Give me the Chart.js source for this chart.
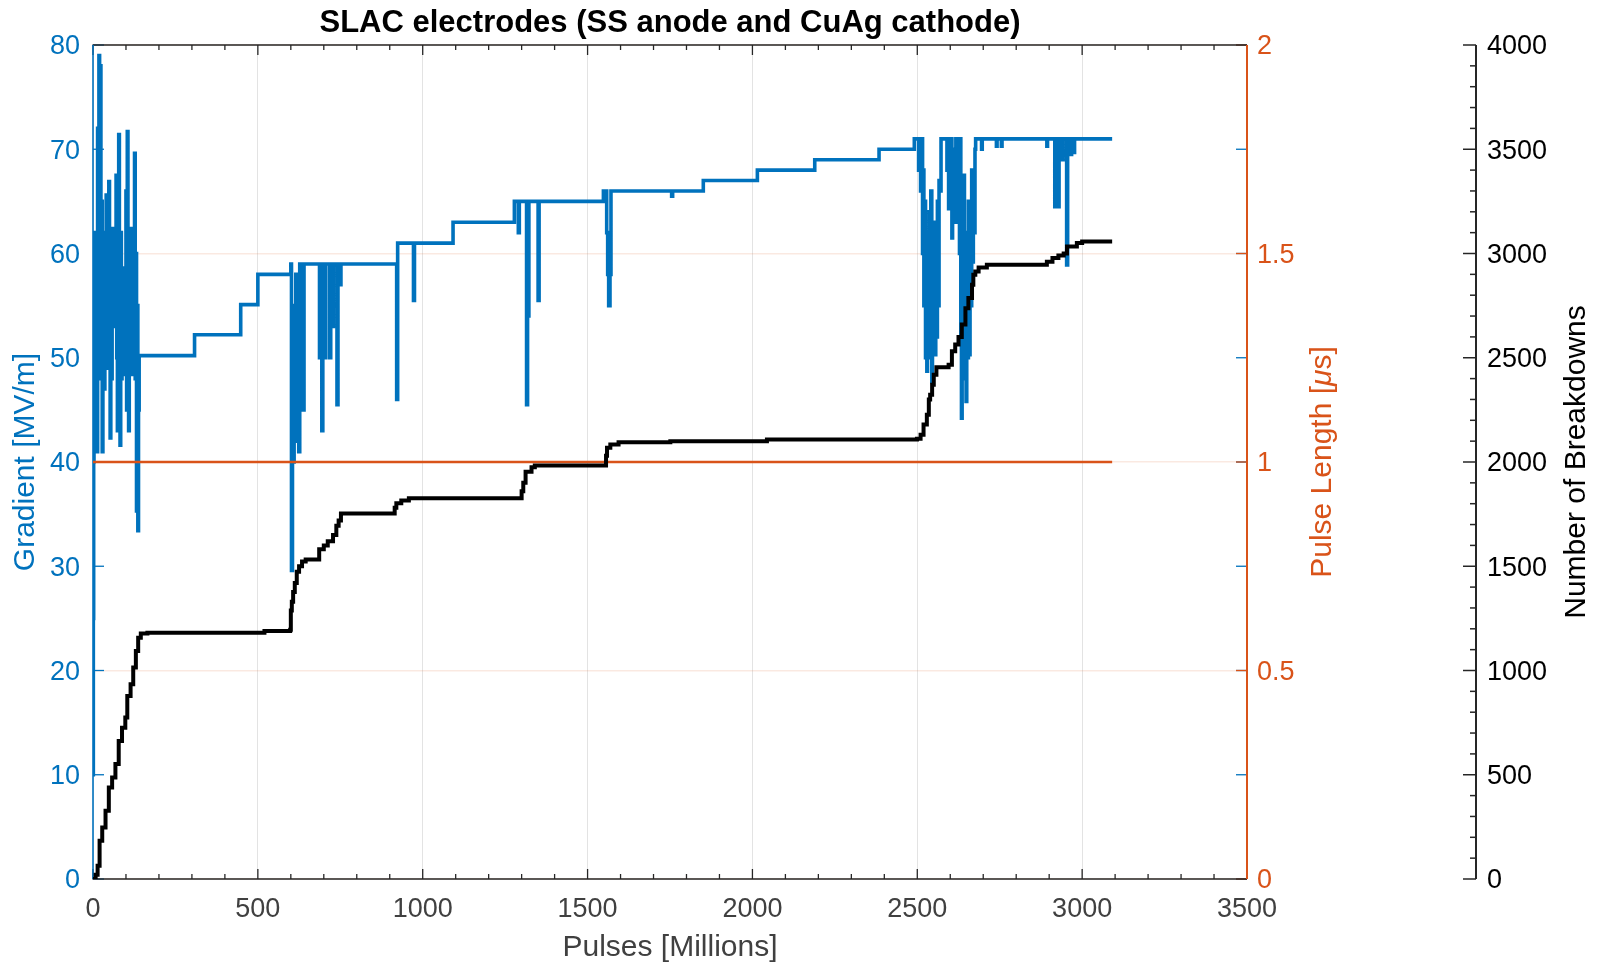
<!DOCTYPE html>
<html>
<head>
<meta charset="utf-8">
<script src="https://cdn.jsdelivr.net/npm/chart.js@4.4.1/dist/chart.umd.min.js"></script>
<style>
  html, body { margin: 0; padding: 0; background: #ffffff; }
  #c { display: block; }
</style>
</head>
<body>
<canvas id="c" width="1602" height="963" style="width:1602px;height:963px"></canvas>
<script>
// ---------------- DATA ----------------
const chartTitle = "SLAC electrodes (SS anode and CuAg cathode)";
const xTitle = "Pulses [Millions]";
const yGradTitle = "Gradient [MV/m]";
const yPulseTitle = ["Pulse Length [", "\u03bc", "s]"];
const yBdTitle = "Number of Breakdowns";

// Gradient [MV/m] vs pulses [millions] (value holds until next point)
const gradPulses = [
  0, 1, 2, 3, 4, 6, 8, 10, 12, 14, 16, 18, 20, 22, 24, 26, 28, 30, 32, 34, 36, 38, 40, 42, 44, 46, 48, 50,
  52, 54, 56, 58, 60, 62, 64, 66, 68, 70, 72, 74, 76, 78, 80, 82, 84, 86, 88, 90, 92, 94, 96, 98, 100,
  102, 104, 106, 108, 110, 112, 114, 116, 118, 120, 122, 124, 126, 128, 130, 132, 134, 136, 138, 140,
  308, 448, 500, 600, 602, 605, 607, 610, 612, 615, 618, 621, 624, 627, 630, 633, 636, 640,
  687, 689, 694, 697, 703, 706, 718, 721, 727, 729, 740, 743, 750, 752,
  921, 924, 972, 975, 1092, 1278, 1290, 1293, 1315, 1318, 1322, 1350, 1353,
  1548, 1558, 1561, 1564, 1568, 1571, 1755, 1758, 1851, 2015, 2189, 2384, 2491,
  2504, 2507, 2510, 2513, 2516, 2518, 2520, 2522, 2525, 2527, 2529, 2531, 2534, 2536, 2539, 2541,
  2544, 2546, 2549, 2551, 2554, 2556, 2559, 2561, 2564, 2566, 2569, 2572, 2590, 2592, 2595, 2597,
  2600, 2602, 2605, 2607, 2610, 2612, 2615, 2617, 2620, 2622, 2625, 2628, 2630, 2632, 2634, 2636,
  2638, 2640, 2643, 2645, 2648, 2650, 2652, 2655, 2658, 2660, 2662, 2665, 2668, 2670, 2673, 2675, 2677,
  2695, 2697, 2740, 2742, 2755, 2757, 2893, 2895, 2917, 2919, 2921, 2924, 2928, 2930, 2940, 2942,
  2953, 2956, 2966, 2968, 2975, 2977, 3091
];
const gradValues = [
  10, 25, 40, 62, 48, 60, 45, 58, 41, 72, 55, 79, 60, 78, 48, 65, 41, 56, 62, 47, 58, 52, 65.6, 49, 60, 52, 66.9, 50,
  42.3, 60, 48, 62.4, 53, 58, 55, 60, 53, 67.5, 50, 43, 58, 71.4, 55, 41.6, 62, 48, 56, 50, 58.6, 48.4, 55, 52, 66,
  45, 71.7, 50, 43, 62, 52, 62.4, 48.4, 58, 50, 60, 55, 69.6, 48, 60, 35.3, 55, 33.4, 45, 50.2,
  52.2, 55.1, 58, 59, 29.6, 50, 40, 55, 42, 58, 45, 57, 41, 59, 48, 56, 45, 59,
  50, 59, 43, 59, 50, 59, 50, 59, 53, 59, 45.5, 59, 57, 59,
  46, 61, 55.5, 61, 63, 65, 62, 65, 45.5, 54, 65, 55.5, 65,
  66, 62, 58, 55, 58, 66, 65.5, 66, 67, 68, 69, 70, 71,
  68, 71, 66, 71, 60, 68, 55, 65, 50, 62, 48.7, 58, 52, 64, 50, 66,
  47.7, 60, 52, 63, 50.3, 60, 52, 65, 55, 67, 66, 71, 68, 71, 64.3, 69,
  66, 71, 61.5, 68, 63, 70, 65, 71, 63, 69, 66, 60, 71, 52, 44.2, 58,
  48, 67.5, 52, 60, 45.8, 62, 50, 65, 50.3, 62, 55, 68, 59.2, 66, 62, 70, 71,
  70, 71, 70.3, 71, 70.3, 71, 70.3, 71, 64.5, 68, 66, 71, 64.5, 71, 69, 71,
  58.9, 71, 69.5, 71, 69.7, 71, 71
];

// Cumulative number of breakdowns vs pulses [millions]
const bdPulses = [
  0, 8, 14, 20, 28, 38, 48, 58, 68, 78, 88, 98, 104, 114, 122, 130, 137, 145, 165, 520, 598,
  600, 603, 607, 612, 618, 625, 634, 645, 686, 700, 712, 728, 738, 745, 752,
  915, 920, 935, 958, 1300, 1305, 1312, 1330, 1340, 1556, 1559, 1569, 1594, 1751, 2044,
  2499, 2510, 2519, 2529, 2535, 2539, 2545, 2550, 2558, 2595, 2605, 2615, 2625, 2635, 2646,
  2655, 2666, 2670, 2676, 2686, 2711, 2893, 2910, 2928, 2944, 2954, 2984, 3000, 3091
];
const bdCounts = [
  0, 20, 64, 183, 247, 327, 439, 487, 552, 662, 726, 774, 878, 934, 1014, 1094, 1157, 1177, 1181, 1189, 1195,
  1288, 1330, 1376, 1420, 1474, 1500, 1523, 1532, 1581, 1600, 1620, 1650, 1694, 1720, 1753,
  1780, 1802, 1815, 1826, 1860, 1900, 1953, 1975, 1983, 2030, 2068, 2084, 2095, 2100, 2108,
  2112, 2131, 2180, 2227, 2300, 2323, 2371, 2419, 2455, 2467, 2531, 2563, 2600, 2659, 2738,
  2786, 2850, 2898, 2914, 2933, 2946, 2960, 2978, 2991, 3000, 3034, 3050, 3058, 3058
];

// Pulse length [us]
const plPulses = [0, 3091];
const plValues = [1, 1];

// Axis ranges / tick steps
const xRange = [0, 3500], xStep = 500, xMinor = 100;
const gradRange = [0, 80], gradStep = 10;
const plRange = [0, 2], plStep = 0.5;
const bdRange = [0, 4000], bdStep = 500, bdMinor = 100;

// ---------------- STYLE ----------------
const BLUE = '#0072BD', ORANGE = '#D95319', DARK = '#262626';
const FONT = "'Liberation Sans', Arial, Helvetica, sans-serif";
Chart.defaults.font.family = FONT;

const toXY = (xs, ys) => xs.map((v, i) => ({ x: v, y: ys[i] }));
const plain = v => String(v);

const matlabAxes = {
  id: 'matlabAxes',
  beforeDatasetsDraw(chart) {
    const { ctx, chartArea: ca, scales } = chart;
    const { x, y, y1, y2 } = scales;
    ctx.save();
    const seg = (a, b, c, d, col, w) => {
      ctx.strokeStyle = col; ctx.lineWidth = w;
      ctx.beginPath(); ctx.moveTo(a, b); ctx.lineTo(c, d); ctx.stroke();
    };
    for (let v = xRange[0]; v <= xRange[1]; v += xMinor) {
      const px = x.getPixelForValue(v);
      const len = (v % xStep === 0) ? 10 : 5;
      seg(px, ca.bottom, px, ca.bottom - len, DARK, 1.3);
      seg(px, ca.top, px, ca.top + len, DARK, 1.3);
    }
    for (let v = gradRange[0]; v <= gradRange[1]; v += gradStep) {
      const py = y.getPixelForValue(v);
      seg(ca.left, py, ca.left + 11, py, BLUE, 1.3);
      seg(ca.right - 11, py, ca.right, py, BLUE, 1.3);
    }
    for (let v = plRange[0]; v <= plRange[1] + 1e-9; v += plStep) {
      const py = y1.getPixelForValue(v);
      seg(ca.right - 11, py, ca.right, py, ORANGE, 1.3);
    }
    seg(ca.left - 0.5, ca.top, ca.right, ca.top, DARK, 1.5);
    seg(ca.left - 0.5, ca.bottom, ca.right, ca.bottom, DARK, 1.5);
    seg(ca.left, ca.top, ca.left, ca.bottom, BLUE, 1.6);
    seg(ca.right, ca.top, ca.right, ca.bottom, ORANGE, 2);
    const ax = y2.left;
    seg(ax, y2.getPixelForValue(bdRange[0]), ax, y2.getPixelForValue(bdRange[1]), DARK, 2);
    for (let v = bdRange[0]; v <= bdRange[1]; v += bdMinor) {
      const py = y2.getPixelForValue(v);
      const len = (v % bdStep === 0) ? 13 : 6;
      seg(ax - len, py, ax, py, DARK, 1.5);
    }
    ctx.restore();
  },
  afterDraw(chart) {
    const { ctx, chartArea: ca } = chart;
    const cy = (ca.top + ca.bottom) / 2;
    ctx.save();
    ctx.fillStyle = '#000000';
    ctx.font = `bold 31px ${FONT}`;
    ctx.textAlign = 'center';
    ctx.textBaseline = 'alphabetic';
    ctx.fillText(chartTitle, (ca.left + ca.right) / 2, 32);
    ctx.font = `30px ${FONT}`;
    ctx.fillStyle = '#404040';
    ctx.textBaseline = 'middle';
    ctx.fillText(xTitle, (ca.left + ca.right) / 2, 948);
    const vtext = (parts, cx, col) => {
      ctx.save();
      ctx.translate(cx, cy);
      ctx.rotate(-Math.PI / 2);
      ctx.fillStyle = col;
      ctx.textBaseline = 'middle';
      ctx.textAlign = 'left';
      let total = 0;
      const widths = parts.map(p => { ctx.font = (p.italic ? 'italic ' : '') + `30px ${FONT}`; const w = ctx.measureText(p.t).width; total += w; return w; });
      let xx = -total / 2;
      parts.forEach((p, i) => { ctx.font = (p.italic ? 'italic ' : '') + `30px ${FONT}`; ctx.fillText(p.t, xx, 0); xx += widths[i]; });
      ctx.restore();
    };
    vtext([{ t: yGradTitle }], 26, BLUE);
    vtext([{ t: yPulseTitle[0] }, { t: yPulseTitle[1], italic: true }, { t: yPulseTitle[2] }], 1323, ORANGE);
    vtext([{ t: yBdTitle }], 1577, '#000000');
    ctx.restore();
  }
};

new Chart(document.getElementById('c'), {
  type: 'line',
  data: {
    datasets: [
      {
        label: 'Breakdowns', data: toXY(bdPulses, bdCounts), yAxisID: 'y2',
        borderColor: '#000000', borderWidth: 4, pointRadius: 0, stepped: true, order: 1,
        borderJoinStyle: 'miter', fill: false
      },
      {
        label: 'Pulse length', data: toXY(plPulses, plValues), yAxisID: 'y1',
        borderColor: ORANGE, borderWidth: 2.5, pointRadius: 0, order: 2, fill: false
      },
      {
        label: 'Gradient', data: toXY(gradPulses, gradValues), yAxisID: 'y',
        borderColor: BLUE, borderWidth: 3.6, pointRadius: 0, stepped: true, order: 3,
        borderJoinStyle: 'miter', fill: false
      }
    ]
  },
  options: {
    responsive: false,
    animation: false,
    devicePixelRatio: 1,
    layout: { padding: { top: 45, left: 0, right: 0, bottom: 0 } },
    plugins: { legend: { display: false }, tooltip: { enabled: false }, title: { display: false } },
    scales: {
      x: {
        type: 'linear', position: 'bottom', min: xRange[0], max: xRange[1],
        ticks: { stepSize: xStep, color: '#404040', font: { size: 27 }, padding: 14, maxRotation: 0, callback: plain },
        grid: { display: true, drawTicks: false, color: 'rgba(38,38,38,0.13)', lineWidth: 1 },
        border: { display: false },
        afterFit: s => { s.height = 84; }
      },
      y: {
        type: 'linear', position: 'left', min: gradRange[0], max: gradRange[1],
        ticks: { stepSize: gradStep, color: BLUE, font: { size: 27 }, padding: 13, labelOffset: 2, callback: plain },
        grid: { display: false, drawTicks: false },
        border: { display: false },
        afterFit: s => { s.width = 93; }
      },
      y1: {
        type: 'linear', position: 'right', min: plRange[0], max: plRange[1],
        ticks: { stepSize: plStep, color: ORANGE, font: { size: 27 }, padding: 10, labelOffset: 2, callback: plain },
        grid: { display: true, drawTicks: false, color: 'rgba(217,83,25,0.13)', lineWidth: 1.5 },
        border: { display: false },
        afterFit: s => { s.width = 229; }
      },
      y2: {
        type: 'linear', position: 'right', min: bdRange[0], max: bdRange[1],
        ticks: { stepSize: bdStep, color: '#000000', font: { size: 27 }, padding: 11, labelOffset: 2, callback: plain },
        grid: { display: false, drawTicks: false },
        border: { display: false },
        afterFit: s => { s.width = 126; }
      }
    }
  },
  plugins: [matlabAxes]
});
</script>
</body>
</html>
